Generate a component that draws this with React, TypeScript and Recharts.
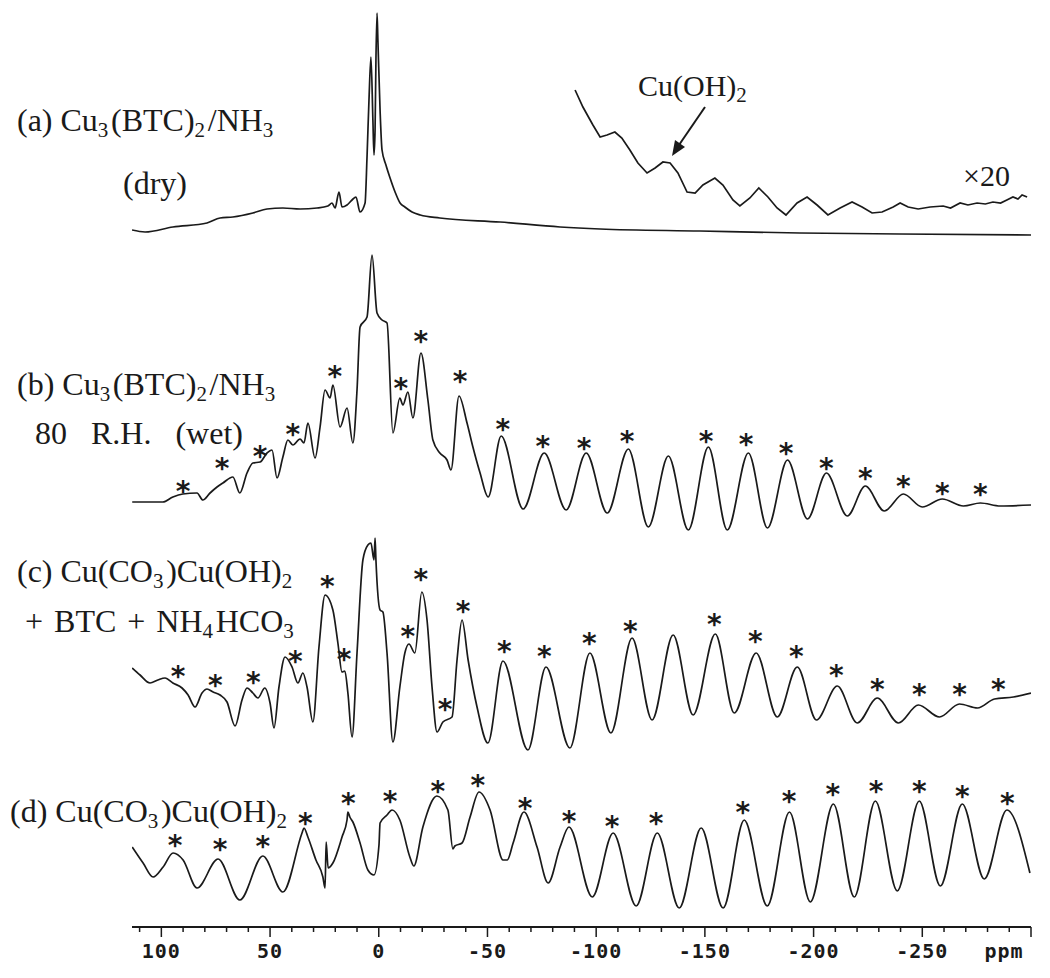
import { ComposedChart, Line, Scatter, XAxis, YAxis } from "recharts";

document.body.style.margin = "0";

// chemical shift (ppm) vs. stacked intensity (arbitrary units, 0 = axis line)
const TRACE_A: [number, number][] = [
  [113.5, 697], [107.5, 695], [94.7, 700], [79.0, 704], [73.0, 709], [67.1, 710],
  [57.9, 714], [51.4, 718], [44.1, 719], [36.2, 718], [28.4, 719], [23.4, 721],
  [21.5, 724], [20.1, 719], [18.3, 735], [16.9, 720], [14.6, 722], [12.3, 727],
  [10.5, 730], [8.6, 715], [6.3, 724], [5.4, 770], [4.5, 827], [3.6, 870],
  [2.7, 807], [2.2, 772], [1.7, 797], [1.3, 867], [0.8, 914], [0.4, 887],
  [-0.6, 817], [-1.5, 777], [-3.3, 762], [-5.2, 749], [-7.5, 735], [-9.8, 724],
  [-12.0, 720], [-15.3, 715], [-19.1, 712], [-28.1, 709], [-55.8, 705], [-83.4, 700],
  [-101.8, 698], [-147.7, 696], [-193.7, 694], [-239.7, 693], [-300, 692],
];

// x20 vertical expansion of trace (a)
const TRACE_A_X20: [number, number][] = [
  [-90.3, 837], [-93.9, 820], [-98.5, 802], [-101.8, 790], [-105.0, 792], [-108.6, 795],
  [-111.8, 789], [-115.5, 777], [-119.2, 764], [-123.4, 754], [-127.1, 759], [-130.7, 765],
  [-134.0, 764], [-137.6, 754], [-141.8, 735], [-145.5, 734], [-149.1, 742], [-154.6, 749],
  [-158.3, 742], [-162.9, 727], [-166.1, 721], [-170.7, 729], [-174.8, 739], [-179.0, 730],
  [-183.2, 719], [-187.3, 712], [-192.4, 724], [-197.0, 730], [-201.6, 722], [-206.6, 712],
  [-212.2, 719], [-217.7, 725], [-222.3, 720], [-226.9, 714], [-231.5, 715], [-236.6, 720],
  [-239.8, 724], [-243.5, 720], [-248.1, 718], [-253.6, 720], [-259.6, 721], [-263.0, 719],
  [-267.4, 724], [-271.0, 722], [-275.2, 724], [-279.0, 723], [-282.5, 725], [-286.0, 724],
  [-288.9, 727], [-291.7, 730], [-294.0, 728], [-295.9, 732], [-298.2, 730],
];

const TRACE_B: [number, number][] = [
  [113.4, 425], [99.3, 425], [94.7, 430], [90.1, 433], [83.6, 434], [80.9, 427],
  [77.6, 434], [74.4, 440], [71.7, 444], [67.1, 450], [63.9, 434], [60.6, 454],
  [57.9, 464], [54.6, 465], [51.4, 474], [49.1, 477], [46.8, 449], [44.1, 470],
  [41.8, 487], [39.5, 482], [36.2, 488], [34.4, 484], [32.6, 504], [29.3, 469],
  [27.0, 500], [24.7, 537], [22.4, 529], [21.1, 542], [17.8, 500], [14.6, 519],
  [11.9, 484], [10.0, 537], [8.6, 600], [5.4, 610], [3.1, 672], [0.8, 614],
  [-1.5, 607], [-3.8, 604], [-6.5, 494], [-9.7, 529], [-11.1, 522], [-13.4, 535],
  [-15.7, 509], [-19.4, 574], [-22.6, 527], [-24.9, 487], [-28.1, 474], [-31.4, 467],
  [-33.2, 457], [-36.9, 531], [-40.6, 504], [-43.3, 480], [-46.6, 454], [-50.3, 430],
  [-56.3, 491], [-66.4, 418], [-76.1, 474], [-86.2, 417], [-95.4, 474], [-105.1, 414],
  [-114.8, 478], [-124.0, 400], [-133.2, 471], [-142.4, 397], [-151.6, 480], [-160.3, 397],
  [-170.0, 474], [-178.8, 399], [-188.0, 467], [-197.2, 408], [-205.9, 454], [-215.5, 411],
  [-223.8, 441], [-232.5, 416], [-241.3, 433], [-250.0, 420], [-259.2, 428], [-268.9, 421],
  [-276.7, 424], [-285.9, 421], [-300, 422],
];

const TRACE_C: [number, number][] = [
  [113.4, 259], [109.8, 252], [105.2, 244], [101.6, 247], [98.3, 249], [94.7, 244],
  [90.5, 239], [87.7, 232], [84.5, 220], [81.3, 234], [79.0, 238], [76.2, 235],
  [73.0, 232], [69.8, 225], [66.1, 201], [62.9, 227], [60.6, 239], [57.9, 234],
  [55.6, 229], [52.4, 239], [50.0, 224], [48.2, 199], [45.9, 240], [43.1, 270],
  [39.9, 260], [37.2, 244], [34.9, 254], [33.0, 240], [30.3, 205], [27.5, 280],
  [24.7, 332], [21.1, 317], [18.8, 284], [16.9, 255], [15.6, 256], [14.2, 234],
  [12.3, 190], [10.0, 274], [7.3, 367], [5.0, 382], [3.6, 384], [2.2, 367],
  [1.7, 389], [1.3, 367], [-0.6, 317], [-1.9, 315], [-3.8, 274], [-6.5, 185],
  [-9.7, 240], [-12.0, 274], [-13.9, 283], [-16.6, 274], [-19.8, 335], [-22.2, 307],
  [-24.5, 240], [-26.8, 195], [-29.5, 205], [-33.7, 210], [-36.0, 267], [-38.3, 307],
  [-41.1, 267], [-45.2, 220], [-50.2, 184], [-57.1, 266], [-68.6, 177], [-76.9, 260],
  [-87.9, 179], [-97.1, 274], [-106.8, 194], [-116.5, 289], [-125.7, 207], [-135.4, 292],
  [-144.6, 212], [-154.8, 293], [-163.5, 214], [-173.6, 274], [-183.3, 210], [-192.5, 260],
  [-201.3, 207], [-210.9, 241], [-220.1, 204], [-229.3, 229], [-239.0, 204], [-248.2, 222],
  [-257.9, 210], [-267.1, 223], [-275.4, 219], [-283.2, 228], [-291.9, 230], [-300, 234],
];

const TRACE_D: [number, number][] = [
  [113.4, 80], [108.4, 64], [103.8, 50], [99.2, 60], [94.6, 74], [90.0, 67],
  [83.6, 39], [73.9, 68], [63.9, 27], [53.3, 71], [44.1, 35], [35.3, 94],
  [34.4, 99], [32.6, 90], [28.9, 67], [25.7, 50], [24.7, 39], [24.2, 85],
  [23.3, 59], [21.1, 64], [16.9, 90], [14.6, 107], [14.2, 115], [13.3, 110],
  [11.9, 105], [8.6, 84], [5.0, 57], [2.2, 52], [-0.1, 82], [-0.6, 104],
  [-3.8, 112], [-6.1, 117], [-9.7, 107], [-14.3, 70], [-16.1, 61], [-20.3, 100],
  [-26.7, 131], [-31.8, 117], [-34.1, 78], [-35.0, 81], [-38.3, 84], [-42.0, 110],
  [-46.1, 135], [-51.2, 117], [-57.2, 67], [-59.1, 67], [-61.8, 84], [-66.8, 115],
  [-72.8, 80], [-77.9, 44], [-83.4, 80], [-87.5, 100], [-98.2, 30], [-107.8, 94],
  [-118.4, 21], [-128.1, 94], [-138.2, 19], [-148.3, 99], [-158.4, 19], [-168.1, 107],
  [-178.7, 21], [-188.9, 115], [-198.5, 25], [-209.1, 123], [-218.7, 30], [-228.4, 126],
  [-238.5, 36], [-248.6, 126], [-258.3, 41], [-268.4, 123], [-278.5, 48], [-288.9, 117],
  [-299.5, 54],
];

// spinning sideband markers (*)
const STARS_B: [number, number][] = [
  [90.0, 442], [72.1, 465], [54.6, 477], [39.5, 499], [20.2, 557], [-10.2, 545],
  [-19.4, 592], [-37.4, 552], [-57.1, 504], [-75.5, 487], [-94.4, 485], [-114.2, 492],
  [-150.5, 492], [-168.9, 489], [-187.3, 480], [-205.9, 465], [-223.8, 455], [-241.3, 447],
  [-259.2, 440], [-276.7, 439],
];
const STARS_C: [number, number][] = [
  [92.3, 257], [75.2, 248], [57.7, 251], [38.4, 272], [23.7, 347], [15.9, 274],
  [-13.4, 297], [-19.4, 354], [-30.5, 224], [-38.8, 322], [-57.7, 282], [-76.1, 277],
  [-96.8, 290], [-115.7, 302], [-154.3, 309], [-173.2, 292], [-192.1, 277], [-210.5, 258],
  [-229.3, 244], [-248.6, 239], [-267.1, 239], [-285.0, 244],
];
const STARS_D: [number, number][] = [
  [93.7, 88], [73.0, 84], [53.3, 87], [33.8, 110], [14.0, 130], [-5.2, 132],
  [-27.2, 142], [-45.6, 148], [-67.3, 125], [-87.5, 112], [-107.3, 107], [-127.5, 110],
  [-167.5, 121], [-188.7, 132], [-208.9, 139], [-228.7, 142], [-248.6, 142], [-268.4, 137],
  [-289.1, 130],
];

const X_TICKS: number[] = [];
for (let t = 110; t >= -300; t -= 10) X_TICKS.push(t);

const rows = (pts: [number, number][]) => pts.map(([ppm, v]) => ({ ppm, v }));
const STARS = rows([...STARS_B, ...STARS_C, ...STARS_D]);

const INK = "#1a1a1a";
const SERIF = "'Liberation Serif', 'Times New Roman', serif";
const MONO = "'DejaVu Sans Mono', monospace";

function AxisTick(props: any) {
  const { x, y, payload } = props;
  const v = payload.value as number;
  const major = v % 50 === 0;
  return (
    <g>
      <line x1={x} x2={x} y1={y} y2={y + (major ? 10 : 5)} stroke={INK} strokeWidth={1.5} />
      {major && v !== -300 && (
        <text
          x={x}
          y={y + 31}
          textAnchor="middle"
          fontFamily={MONO}
          fontWeight="bold"
          fontSize={20}
          letterSpacing={1}
          fill={INK}
        >
          {v < 0 ? `-${-v}` : `${v}`}
        </text>
      )}
    </g>
  );
}

function Star(props: any) {
  const { cx, cy } = props;
  return (
    <text
      x={cx}
      y={cy + 16}
      textAnchor="middle"
      fontFamily="'DejaVu Sans', sans-serif"
      fontWeight="bold"
      fontSize={28}
      fill={INK}
    >
      *
    </text>
  );
}

function Sub({ children }: { children: string }) {
  return (
    <>
      <tspan fontSize={21} dy={6}>{children}</tspan>
      <tspan dy={-6}>{"\u200A"}</tspan>
    </>
  );
}

function Labels() {
  return (
    <svg
      width={1050}
      height={978}
      style={{ position: "absolute", left: 0, top: 0, pointerEvents: "none" }}
    >
      <g fontFamily={SERIF} fontSize={32} fill={INK}>
        <text x={17} y={131}>
          (a) Cu<Sub>3</Sub>(BTC)<Sub>2</Sub>/NH<Sub>3</Sub>
        </text>
        <text x={123} y={194}>(dry)</text>
        <text x={17} y={395}>
          (b) Cu<Sub>3</Sub>(BTC)<Sub>2</Sub>/NH<Sub>3</Sub>
        </text>
        <text x={35} y={444} wordSpacing={16}>80 R.H. (wet)</text>
        <text x={17} y={582}>
          (c) Cu(CO<Sub>3</Sub>)Cu(OH)<Sub>2</Sub>
        </text>
        <text x={25} y={632} wordSpacing={3}>
          + BTC + NH<Sub>4</Sub>HCO<Sub>3</Sub>
        </text>
        <text x={10} y={822}>
          (d) Cu(CO<Sub>3</Sub>)Cu(OH)<Sub>2</Sub>
        </text>
        <text x={638} y={96} fontSize={30}>
          Cu(OH)<Sub>2</Sub>
        </text>
        <text x={963} y={186} fontSize={30}>×20</text>
      </g>
      <line x1={705} y1={107} x2={679} y2={145} stroke={INK} strokeWidth={2} />
      <polygon points="672,156 675,140 685,147" fill={INK} />
      <text
        x={1004}
        y={958}
        textAnchor="middle"
        fontFamily={MONO}
        fontWeight="bold"
        fontSize={20}
        letterSpacing={1}
        fill={INK}
      >
        ppm
      </text>
    </svg>
  );
}

export default function App() {
  const lineProps = {
    dataKey: "v",
    stroke: INK,
    strokeWidth: 1.7,
    dot: false,
    activeDot: false,
    isAnimationActive: false,
  };
  return (
    <div style={{ position: "relative", width: 1050, height: 978, background: "#fff" }}>
      <ComposedChart
        width={1050}
        height={978}
        margin={{ top: 0, right: 19, bottom: 0, left: 132 }}
      >
        <XAxis
          type="number"
          dataKey="ppm"
          domain={[-300, 113.5]}
          reversed
          allowDataOverflow
          ticks={X_TICKS}
          interval={0}
          height={51}
          tickSize={0}
          tickMargin={0}
          tickLine={false}
          axisLine={{ stroke: INK, strokeWidth: 2 }}
          tick={<AxisTick />}
        />
        <YAxis type="number" dataKey="v" domain={[0, 927]} allowDataOverflow hide />
        <Line data={rows(TRACE_A)} type="monotone" {...lineProps} />
        <Line data={rows(TRACE_A_X20)} type="linear" {...lineProps} />
        <Line data={rows(TRACE_B)} type="monotone" {...lineProps} />
        <Line data={rows(TRACE_C)} type="monotone" {...lineProps} />
        <Line data={rows(TRACE_D)} type="monotone" {...lineProps} />
        <Scatter data={STARS} shape={<Star />} isAnimationActive={false} />
      </ComposedChart>
      <Labels />
    </div>
  );
}
